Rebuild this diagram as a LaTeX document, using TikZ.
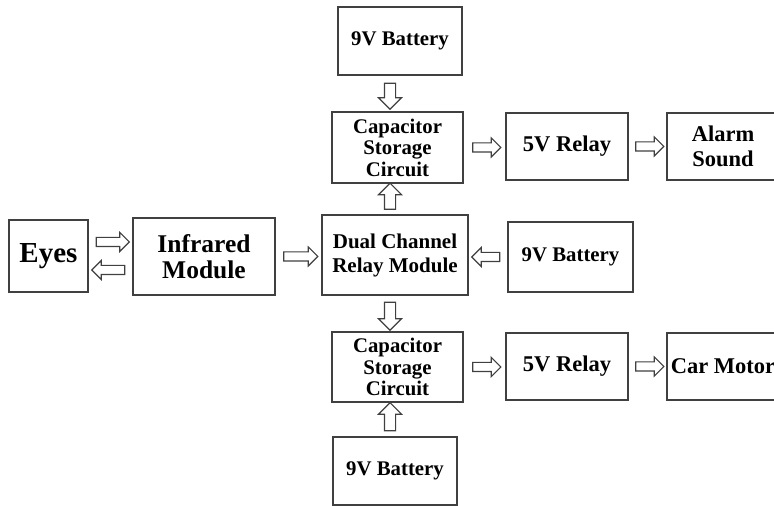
\documentclass[tikz,border=0pt]{standalone}
\usepackage{fontspec}
\setmainfont{Liberation Serif}
\usetikzlibrary{positioning}
\usetikzlibrary{calc}
\usetikzlibrary{shapes.arrows}
\tikzset{
    blk/.style={
    draw=black!75,
    line width=1.4pt,
    align=center,
    inner sep=0pt,
    font=\bfseries\fontsize{20.8}{21.5}\selectfont
    },
    harrow/.style={
    single arrow,
    draw=black!75,
    line width=1.1pt,
    fill=white,
    inner sep=4pt,
    single arrow head extend=5pt,
    minimum height=28pt,
    sloped,
    allow upside down
    },
    varrow/.style={
    harrow,
    inner sep=5pt,
    single arrow head extend=6pt,
    minimum height=26pt
    }
}

\begin{document}
\begin{tikzpicture}[x=1pt,y=1pt]
\useasboundingbox (0,0) rectangle (774,506);

% boxes
\node [blk, minimum width=124pt, minimum height=68pt] (bat1) at (400,465) {9V Battery};
\node [blk, minimum width=131pt, minimum height=71pt] (cap1) at (397.5,358.5) {Capacitor\\Storage\\Circuit};
\node [blk, minimum width=122pt, minimum height=67pt, font=\bfseries\fontsize{22.5}{25}\selectfont] (relay1) at (567,359.5) {5V Relay};
\node [blk, minimum width=112pt, minimum height=67pt, font=\bfseries\fontsize{22.5}{25}\selectfont] (alarm) at (723,359.5) {Alarm\\Sound};

\node [blk, minimum width=79pt, minimum height=72pt, font=\bfseries\fontsize{29}{30}\selectfont] (eyes) at (48.5,250) {Eyes};
\node [blk, minimum width=142pt, minimum height=77pt, font=\bfseries\fontsize{25.5}{26.5}\selectfont] (infra) at (204,249.5) {Infrared\\Module};
\node [blk, minimum width=146pt, minimum height=80pt, font=\bfseries\fontsize{21}{24}\selectfont] (dual) at (395,251) {Dual Channel\\Relay Module};
\node [blk, minimum width=125pt, minimum height=70pt] (bat2) at (570.5,249) {9V Battery};

\node [blk, minimum width=131pt, minimum height=70pt] (cap2) at (397.5,139) {Capacitor\\Storage\\Circuit};
\node [blk, minimum width=122pt, minimum height=67pt, font=\bfseries\fontsize{22.5}{25}\selectfont] (relay2) at (567,139.5) {5V Relay};
\node [blk, minimum width=112pt, minimum height=67pt, font=\bfseries\fontsize{22.5}{25}\selectfont] (motor) at (723,139.5) {Car Motor};
\node [blk, minimum width=124pt, minimum height=68pt] (bat3) at (395,35) {9V Battery};

% arrows
\coordinate (axis) at (390,0);
\path (axis |- bat1.south) -- (axis |- cap1.north) node[varrow, midway] (a0) {};
\path (axis |- dual.north) -- (axis |- cap1.south) node[varrow, midway] (a1) {};
\path (axis |- dual.south) -- (axis |- cap2.north) node[varrow, midway, minimum height=28pt] (a2) {};
\path (axis |- bat3.north) -- (axis |- cap2.south) node[varrow, midway, minimum height=28pt] (a3) {};

\path (cap1.east) -- (cap1.east -| relay1.west) node[harrow, midway] (a4) {};
\path (relay1.east) -- (relay1.east -| alarm.west) node[harrow, midway] (a5) {};
\path (cap2.east) -- (cap2.east -| relay2.west) node[harrow, midway] (a6) {};
\path (relay2.east) -- (relay2.east -| motor.west) node[harrow, midway] (a7) {};
\path (bat2.west) -- (bat2.west -| dual.east) node[harrow, midway] (a8) {};

\path ([yshift=14pt]eyes.east) -- ([yshift=14pt]eyes.east -| infra.west) node[harrow, midway, minimum height=33pt] (a9) {};
\path ([yshift=-14pt]eyes.east -| infra.west) -- ([yshift=-14pt]eyes.east) node[harrow, midway, minimum height=33pt] (a10) {};
\path (infra.east) -- (infra.east -| dual.west) node[harrow, midway, minimum height=34pt] (a11) {};

\end{tikzpicture}
\end{document}
